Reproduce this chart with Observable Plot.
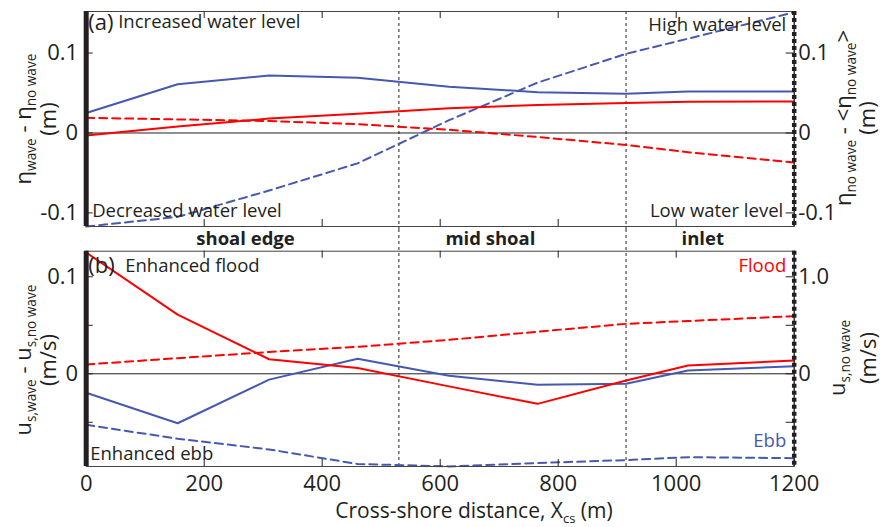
<!DOCTYPE html>
<html><head><meta charset="utf-8">
<script src="https://cdn.jsdelivr.net/npm/d3@7"></script>
<script src="https://cdn.jsdelivr.net/npm/@observablehq/plot@0.6"></script>
<style>
body{margin:0;background:#fff;}
#chart{width:886px;height:527px;position:relative;}
#chart svg{display:block;}
</style></head><body><div id="chart"></div>
<script>
// ---------- data ----------
const xCrossShore = [0, 155, 310, 460, 615, 765, 915, 1020, 1200];
// panel (a): water level (m)
const etaDiffFlood   = [-0.003, 0.008, 0.018, 0.024, 0.031, 0.035, 0.0375, 0.039, 0.0395];
const etaDiffEbb     = [0.025, 0.061, 0.072, 0.069, 0.058, 0.051, 0.049, 0.052, 0.052];
const etaNoWaveFlood = [0.019, 0.017, 0.015, 0.011, 0.004, -0.005, -0.015, -0.024, -0.037];
const etaNoWaveEbb   = [-0.117, -0.105, -0.072, -0.038, 0.016, 0.063, 0.099, 0.118, 0.151];
// panel (b): velocity (m/s)
const uDiffFlood   = [0.125, 0.061, 0.015, 0.006, -0.013, -0.031, -0.007, 0.0086, 0.0137];
const uDiffEbb     = [-0.0196, -0.051, -0.006, 0.0155, -0.002, -0.0113, -0.0103, 0.0034, 0.0078];
const uNoWaveFlood = [0.096, 0.161, 0.225, 0.278, 0.35, 0.434, 0.515, 0.544, 0.594];
const uNoWaveEbb   = [-0.526, -0.67, -0.78, -0.93, -0.955, -0.92, -0.89, -0.86, -0.87];

const regionBounds = [530, 915];
const regionNames = ["shoal edge", "mid shoal", "inlet"];
const regionX = [270, 685, 1045];

const xDomain = [0, 1200];
const xTicks = [0, 200, 400, 600, 800, 1000, 1200];
const yDomainA = [-0.117, 0.152];
const yTicksA = [-0.1, 0, 0.1];
const yDomainB = [-0.0956, 0.1264];
const yTicksB = [-0.05, 0, 0.05, 0.1];
const yTickLabelsB = [0, 0.1];
const rightRatioB = 10;              // right axis (b) = left axis x 10
const rightTicksB = [-0.5, 0, 0.5, 1.0];
const rightTickLabelsB = ["0", "1.0"];
const rightTickLabelValuesB = [0, 1.0];

// ---------- style ----------
const FONT = "'Open Sans', sans-serif";
const INK = "#231f20";
const RED = "#ff0000";
const BLUE = "#4659b0";
const TICKFS = 22, ANNFS = 18.5;
const W = 886, mL = 85.7, mR = 886 - 793.7;
const plotW = W - mL - mR;

const rows = ys => xCrossShore.map((x, i) => ({x, y: ys[i]}));

function frameMarks(yTicksLeft, yTicksRight, yRightMap, plotH) {
  return [
    Plot.frame({stroke: "#444", strokeWidth: 1}),
    Plot.tickX(xTicks, {x: d => d, insetTop: plotH - 7, stroke: INK}),
    Plot.tickX(xTicks, {x: d => d, insetBottom: plotH - 7, stroke: INK}),
    Plot.tickY(yTicksLeft, {y: d => d, insetRight: plotW - 7, stroke: INK}),
    Plot.tickY(yTicksRight, {y: yRightMap, insetLeft: plotW - 8, stroke: INK}),
    Plot.ruleX([xDomain[0]], {stroke: INK, strokeWidth: 5}),
    Plot.ruleX([xDomain[1]], {stroke: INK, strokeWidth: 1}),
    Plot.ruleX([xDomain[1]], {stroke: INK, strokeWidth: 4.5, strokeDasharray: "4,3"})
  ];
}

// ---------- panel (a) ----------
const hA = 229, mtA = 11, mbA = 3;
const plotA = Plot.plot({
  width: W, height: hA, marginTop: mtA, marginBottom: mbA, marginLeft: mL, marginRight: mR,
  style: {background: "none", overflow: "visible", fontFamily: FONT, color: INK},
  x: {domain: xDomain, axis: null},
  y: {domain: yDomainA, axis: null},
  marks: [
    Plot.ruleX(regionBounds, {stroke: INK, strokeDasharray: "3,3", insetBottom: -mbA}),
    Plot.ruleY([0], {stroke: INK}),
    Plot.line(rows(etaNoWaveEbb), {x: "x", y: "y", stroke: BLUE, strokeWidth: 2, strokeDasharray: "8,5"}),
    Plot.line(rows(etaNoWaveFlood), {x: "x", y: "y", stroke: RED, strokeWidth: 2, strokeDasharray: "8,5"}),
    Plot.line(rows(etaDiffEbb), {x: "x", y: "y", stroke: BLUE, strokeWidth: 2}),
    Plot.line(rows(etaDiffFlood), {x: "x", y: "y", stroke: RED, strokeWidth: 2}),
    ...frameMarks(yTicksA, yTicksA, d => d, hA - mtA - mbA),
    Plot.axisY({anchor: "left", ticks: yTicksA, tickSize: 0, tickPadding: 8, fontSize: TICKFS, tickFormat: d => String(d), label: null}),
    Plot.axisY({anchor: "right", ticks: yTicksA, tickSize: 0, tickPadding: 4, fontSize: TICKFS, tickFormat: d => String(d), label: null}),
    Plot.text(["(a)"], {frameAnchor: "top-left", dx: 2, dy: 11, textAnchor: "start", lineAnchor: "middle", fontSize: 22, fill: INK}),
    Plot.text(["Increased water level"], {frameAnchor: "top-left", dx: 32, dy: 11, textAnchor: "start", lineAnchor: "middle", fontSize: ANNFS, fill: INK}),
    Plot.text(["Decreased water level"], {frameAnchor: "bottom-left", dx: 6, dy: -15, textAnchor: "start", lineAnchor: "middle", fontSize: ANNFS, fill: INK}),
    Plot.text(["High water level"], {frameAnchor: "top-right", dx: -8, dy: 14, textAnchor: "end", lineAnchor: "middle", fontSize: ANNFS, fill: INK}),
    Plot.text(["Low water level"], {frameAnchor: "bottom-right", dx: -11, dy: -15, textAnchor: "end", lineAnchor: "middle", fontSize: ANNFS, fill: INK})
  ]
});

// ---------- panel (b) ----------
const hB = 298, mtB = 21.7, mbB = 61;
const plotB = Plot.plot({
  width: W, height: hB, marginTop: mtB, marginBottom: mbB, marginLeft: mL, marginRight: mR,
  style: {background: "none", overflow: "visible", fontFamily: FONT, color: INK},
  x: {domain: xDomain, axis: null},
  y: {domain: yDomainB, axis: null},
  marks: [
    Plot.ruleX(regionBounds, {stroke: INK, strokeDasharray: "3,3", insetTop: -mtB}),
    Plot.ruleY([0], {stroke: INK}),
    Plot.line(rows(uNoWaveEbb), {x: "x", y: d => d.y / rightRatioB, stroke: BLUE, strokeWidth: 2, strokeDasharray: "8,5"}),
    Plot.line(rows(uNoWaveFlood), {x: "x", y: d => d.y / rightRatioB, stroke: RED, strokeWidth: 2, strokeDasharray: "8,5"}),
    Plot.line(rows(uDiffEbb), {x: "x", y: "y", stroke: BLUE, strokeWidth: 2}),
    Plot.line(rows(uDiffFlood), {x: "x", y: "y", stroke: RED, strokeWidth: 2}),
    ...frameMarks(yTicksB, rightTicksB, d => d / rightRatioB, hB - mtB - mbB),
    Plot.axisY({anchor: "left", ticks: yTickLabelsB, tickSize: 0, tickPadding: 8, fontSize: TICKFS, tickFormat: d => String(d), label: null}),
    Plot.text(rightTickLabelValuesB, {y: d => d / rightRatioB, text: (d, i) => rightTickLabelsB[i], frameAnchor: "right", dx: 4, textAnchor: "start", lineAnchor: "middle", fontSize: TICKFS, fill: INK}),
    Plot.axisX({anchor: "bottom", ticks: xTicks, tickSize: 0, tickPadding: 9, fontSize: TICKFS, tickFormat: d => String(d), label: null}),
    Plot.text(regionNames, {x: (d, i) => regionX[i], frameAnchor: "top", dy: -12, lineAnchor: "middle", fontSize: 18.5, fontWeight: "bold", fill: INK}),
    Plot.text(["(b)"], {frameAnchor: "top-left", dx: 2, dy: 14.5, textAnchor: "start", lineAnchor: "middle", fontSize: 22, fill: INK}),
    Plot.text(["Enhanced flood"], {frameAnchor: "top-left", dx: 39, dy: 15, textAnchor: "start", lineAnchor: "middle", fontSize: ANNFS, fill: INK}),
    Plot.text(["Enhanced ebb"], {frameAnchor: "bottom-left", dx: 4, dy: -12, textAnchor: "start", lineAnchor: "middle", fontSize: ANNFS, fill: INK}),
    Plot.text(["Flood"], {frameAnchor: "top-right", dx: -8, dy: 15, textAnchor: "end", lineAnchor: "middle", fontSize: ANNFS, fill: RED}),
    Plot.text(["Ebb"], {frameAnchor: "bottom-right", dx: -8, dy: -25, textAnchor: "end", lineAnchor: "middle", fontSize: ANNFS, fill: BLUE})
  ]
});

const chart = document.getElementById("chart");
chart.appendChild(plotA);
chart.appendChild(plotB);

// ---------- axis titles with subscripts ----------
function label(svgNode, x, y, rotate, parts, size) {
  const t = d3.select(svgNode).append("text")
    .attr("transform", `translate(${x},${y})${rotate ? " rotate(-90)" : ""}`)
    .attr("text-anchor", "middle")
    .attr("fill", INK)
    .style("font-family", FONT)
    .style("font-size", size + "px");
  let shifted = false;
  for (const [str, sub] of parts) {
    const s = t.append("tspan").text(str);
    if (sub && !shifted) { s.attr("dy", 5).style("font-size", (size * 0.62) + "px"); shifted = true; }
    else if (!sub && shifted) { s.attr("dy", -5); shifted = false; }
    else if (sub) s.style("font-size", (size * 0.62) + "px");
  }
}
// panel (a) left
label(plotA, 31, 119, true, [["η"], ["wave", 1], [" - η"], ["no wave", 1]], 22);
label(plotA, 56, 119, true, [["(m)"]], 22);
// panel (a) right
label(plotA, 851, 118, true, [["η"], ["no wave", 1], [" - <η"], ["no wave", 1], [">"]], 22);
label(plotA, 875, 118, true, [["(m)"]], 22);
// panel (b) left
label(plotB, 31, 360 - 229, true, [["u"], ["s,wave", 1], [" - u"], ["s,no wave", 1]], 22);
label(plotB, 56, 360 - 229, true, [["(m/s)"]], 22);
// panel (b) right
label(plotB, 845, 358 - 229, true, [["u"], ["s,no wave", 1]], 22);
label(plotB, 876, 358 - 229, true, [["(m/s)"]], 22);
// x title
label(plotB, 474, 518 - 229, false, [["Cross-shore distance, X"], ["cs", 1], [" (m)"]], 21);
</script>
</body></html>
